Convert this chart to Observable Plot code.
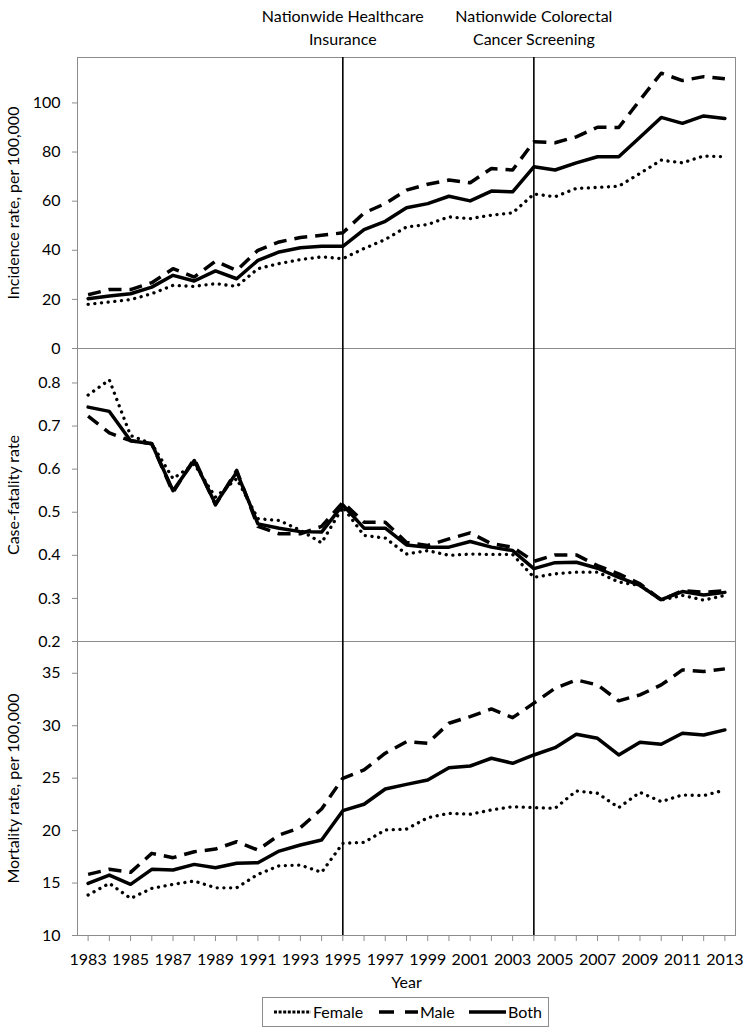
<!DOCTYPE html>
<html>
<head>
<meta charset="utf-8">
<script src="https://cdn.jsdelivr.net/npm/d3@7"></script>
<script src="https://cdn.jsdelivr.net/npm/@observablehq/plot@0.6"></script>
<style>
  body { margin: 0; background: #fff; }
  #chart { position: relative; width: 745px; height: 1030px; font-family: Lato, sans-serif; color: #000; }
  #chart > svg { position: absolute; left: 0; top: 0; }
  #legend { position: absolute; left: 262px; top: 997px; width: 287px; height: 30px; box-sizing: border-box; border: 1px solid #8c8c8c; background: #fff; }
  #legend svg { display: block; }
</style>
</head>
<body>
<div id="chart"></div>
<script>
// ---------- data ----------
const years = [1983,1984,1985,1986,1987,1988,1989,1990,1991,1992,1993,1994,1995,1996,1997,1998,1999,2000,2001,2002,2003,2004,2005,2006,2007,2008,2009,2010,2011,2012,2013];
const xTickLabels = [1983,1985,1987,1989,1991,1993,1995,1997,1999,2001,2003,2005,2007,2009,2011,2013];
const seriesNames = ["Female", "Male", "Both"];

const incidenceFemale = [18.0,18.9,19.9,22.3,25.7,25.3,26.4,25.3,32.5,34.6,36.2,37.3,36.6,40.7,44.4,49.5,50.5,53.6,52.9,54.3,55.2,62.9,61.8,65.2,65.6,66.1,71.3,76.7,75.6,78.4,78.1];
const incidenceMale   = [21.9,24.0,24.0,26.8,32.5,29.1,35.6,31.8,40.0,43.4,45.2,46.1,47.1,55.2,59.0,64.5,66.9,68.6,67.5,73.3,72.7,84.2,83.8,86.2,90.1,90.0,101.2,112.1,109.1,110.7,109.8];
const incidenceBoth   = [20.3,21.4,22.3,25.0,29.8,27.5,31.6,28.4,35.9,39.3,41.0,41.6,41.6,48.4,51.8,57.3,59.0,62.0,60.1,64.1,63.8,74.0,72.7,75.6,78.1,78.1,86.0,94.1,91.7,94.7,93.7];

const fatalityFemale = [0.772,0.807,0.678,0.659,0.578,0.612,0.535,0.578,0.485,0.481,0.458,0.429,0.512,0.446,0.440,0.403,0.411,0.400,0.403,0.402,0.402,0.349,0.357,0.361,0.361,0.338,0.330,0.296,0.307,0.296,0.307];
const fatalityMale   = [0.723,0.684,0.666,0.659,0.546,0.624,0.517,0.597,0.467,0.450,0.450,0.467,0.523,0.477,0.477,0.430,0.423,0.438,0.452,0.427,0.419,0.386,0.401,0.401,0.376,0.357,0.334,0.296,0.318,0.314,0.318];
const fatalityBoth   = [0.744,0.734,0.666,0.659,0.550,0.620,0.519,0.593,0.473,0.463,0.455,0.454,0.517,0.463,0.463,0.424,0.419,0.419,0.432,0.419,0.411,0.369,0.383,0.384,0.370,0.349,0.330,0.297,0.316,0.308,0.314];

const mortalityFemale = [13.86,14.97,13.54,14.49,14.88,15.19,14.55,14.55,15.83,16.65,16.72,16.02,18.79,18.88,20.06,20.15,21.23,21.65,21.56,21.97,22.28,22.19,22.13,23.78,23.56,22.19,23.65,22.76,23.40,23.34,23.87];
const mortalityMale   = [15.83,16.31,16.02,17.83,17.42,17.99,18.24,18.94,18.15,19.58,20.28,22.06,24.99,25.78,27.38,28.48,28.33,30.24,30.87,31.60,30.77,32.15,33.58,34.37,33.89,32.37,32.94,33.89,35.32,35.16,35.42];
const mortalityBoth   = [14.97,15.76,14.88,16.31,16.24,16.78,16.46,16.88,16.94,18.05,18.63,19.10,21.90,22.51,23.97,24.41,24.83,26.00,26.16,26.90,26.42,27.21,27.91,29.19,28.80,27.21,28.43,28.23,29.28,29.12,29.60];

const incidenceTicks = [0,20,40,60,80,100];
const fatalityTicks = [0.2,0.3,0.4,0.5,0.6,0.7,0.8];
const mortalityTicks = [10,15,20,25,30,35];

const eventYears = [1995, 2004];
const eventLabels = ["Nationwide Healthcare\nInsurance", "Nationwide Colorectal\nCancer Screening"];

// ---------- styles ----------
const W = 745, H = 1030;
const FONT = "Lato, sans-serif";
const GRID = "#8c8c8c";
const lineStyle = {
  Female: {strokeWidth: 3.3, strokeDasharray: "0.1 6.6", strokeLinecap: "round"},
  Male:   {strokeWidth: 3.5, strokeDasharray: "13 8", strokeLinecap: "butt"},
  Both:   {strokeWidth: 3.5}
};

function rows(arr) { return years.map((y, i) => ({year: y, value: arr[i]})); }

function panel({series, domain, ticks, fmt, label, top, bottom, xAxis, annotate}) {
  const marks = [
    Plot.frame({stroke: GRID, strokeWidth: 1}),
    Plot.axisY({ticks, tickSize: 5, tickPadding: 12, tickFormat: fmt, stroke: GRID, fill: "#000", fontSize: 16, label: null}),
    Plot.text([label], {text: d => d, frameAnchor: "left", textAnchor: "middle", dx: -64, rotate: -90, fontSize: 16, lineAnchor: "middle", fill: "#000"}),
    Plot.ruleX(eventYears, {stroke: "#000", strokeWidth: 1.6})
  ];
  seriesNames.forEach((name, k) => {
    marks.push(Plot.line(rows(series[k]), {x: "year", y: "value", stroke: "#000", ...lineStyle[name]}));
  });
  if (xAxis) {
    marks.push(Plot.axisX({ticks: years, tickSize: 6, tickPadding: 12, stroke: GRID, fill: "#000", fontSize: 16, label: null,
      tickFormat: d => xTickLabels.includes(d) ? String(d) : ""}));
    marks.push(Plot.text(["Year"], {text: d => d, frameAnchor: "bottom", textAnchor: "middle", dy: 47, lineAnchor: "middle", fontSize: 16, fill: "#000"}));
  }
  if (annotate) {
    marks.push(Plot.text(eventYears.map((y, i) => ({year: y, label: eventLabels[i]})), {
      x: "year", text: "label", frameAnchor: "top", textAnchor: "middle", dy: -31.5, lineAnchor: "middle", lineHeight: 1.44, fontSize: 16, fill: "#000"
    }));
  }
  return Plot.plot({
    width: W, height: H,
    marginLeft: 77, marginRight: 10, marginTop: top, marginBottom: H - bottom,
    x: {domain: [1982.5, 2013.5], axis: xAxis ? undefined : null},
    y: {domain},
    style: {background: "transparent", overflow: "visible", fontFamily: FONT, fontSize: "16px", color: "#000"},
    marks
  });
}

const chart = document.getElementById("chart");
chart.append(panel({
  series: [incidenceFemale, incidenceMale, incidenceBoth],
  domain: [0, 118.5], ticks: incidenceTicks, fmt: d => String(d),
  label: "Incidence rate, per 100,000", top: 57, bottom: 348, annotate: true
}));
chart.append(panel({
  series: [fatalityFemale, fatalityMale, fatalityBoth],
  domain: [0.2, 0.88], ticks: fatalityTicks, fmt: d => d.toFixed(1),
  label: "Case-fatality rate", top: 348, bottom: 641
}));
chart.append(panel({
  series: [mortalityFemale, mortalityMale, mortalityBoth],
  domain: [10, 38.03], ticks: mortalityTicks, fmt: d => String(d),
  label: "Mortality rate, per 100,000", top: 641, bottom: 935, xAxis: true
}));

// ---------- legend ----------
const legend = document.createElement("div");
legend.id = "legend";
chart.append(legend);
const lsvg = d3.select(legend).append("svg").attr("width", 285).attr("height", 28)
  .style("font-family", FONT).style("font-size", "16px");
const keyX = {Female: [11, 48], Male: [116, 155], Both: [206, 243]};
const keyStyle = {
  Female: {w: 3, dash: "3 1.6", cap: "butt"},
  Male:   {w: 3.5, dash: "15 11", cap: "butt"},
  Both:   {w: 3.5, dash: null, cap: "butt"}
};
seriesNames.forEach(name => {
  const [x0, x1] = keyX[name];
  const s = keyStyle[name];
  const ln = lsvg.append("line").attr("x1", x0).attr("x2", x1).attr("y1", 14).attr("y2", 14)
    .attr("stroke", "#000").attr("stroke-width", s.w).attr("stroke-linecap", s.cap);
  if (s.dash) ln.attr("stroke-dasharray", s.dash);
  lsvg.append("text").attr("x", x1 + 2).attr("y", 14).attr("dy", "0.35em").attr("fill", "#000").text(name);
});
</script>
</body>
</html>
